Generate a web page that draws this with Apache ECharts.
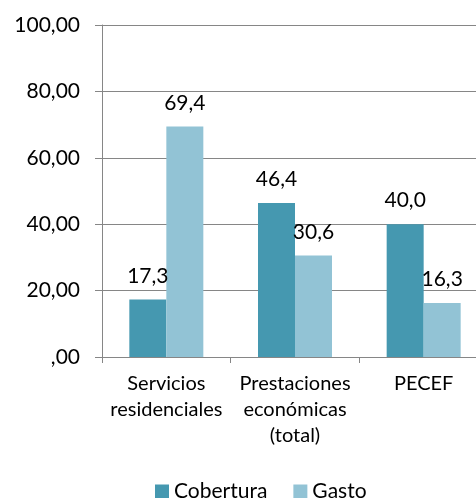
<!DOCTYPE html>
<html>
<head>
<meta charset="utf-8">
<script src="https://cdn.jsdelivr.net/npm/echarts@6/dist/echarts.min.js"></script>
<style>
  html, body { margin: 0; padding: 0; background: #fff; }
</style>
</head>
<body>
<div id="chart" style="width: 476px; height: 498px"></div>
<script>
// datos
var categorias = ["Servicios\nresidenciales", "Prestaciones\neconómicas\n(total)", "PECEF"];
var cobertura = [17.3, 46.4, 40.0];
var gasto = [69.4, 30.6, 16.3];

var chartDom = document.getElementById("chart");
var myChart = echarts.init(chartDom);
var option;

var fuente = "Lato";
var coma = function (v, d) {
  var s = Number(v).toFixed(d).replace(".", ",");
  return s.indexOf("0,") === 0 ? s.slice(1) : s;
};

option = {
  animation: false,
  textStyle: { fontFamily: fuente },
  legend: {
    top: 476,
    left: 150,
    itemWidth: 14,
    itemHeight: 14,
    itemGap: 26,
    icon: "rect",
    textStyle: { fontSize: 21, color: "#000", fontFamily: fuente },
    data: ["Cobertura", "Gasto"],
  },
  grid: {
    left: 102,
    width: 386,
    top: 25,
    bottom: 141,
    outerBoundsMode: "none",
  },
  xAxis: {
    type: "category",
    data: categorias,
    axisLine: { lineStyle: { color: "#868686" } },
    axisTick: { show: true, length: 6, lineStyle: { color: "#868686" } },
    axisLabel: {
      color: "#000",
      fontSize: 20,
      lineHeight: 26,
      margin: 14,
      interval: 0,
    },
  },
  yAxis: {
    type: "value",
    min: 0,
    max: 100,
    interval: 20,
    axisLine: { show: true, lineStyle: { color: "#868686" } },
    axisTick: { show: true, length: 7, lineStyle: { color: "#868686" } },
    splitLine: { lineStyle: { color: "#868686", width: 1 } },
    axisLabel: {
      color: "#000",
      fontSize: 21,
      margin: 22,
      formatter: function (v) { return coma(v, 2); },
    },
  },
  series: [
    {
      name: "Cobertura",
      type: "bar",
      data: cobertura,
      barWidth: 37,
      barGap: "0%",
      itemStyle: { color: "#4598b0" },
      label: {
        show: true,
        position: "top",
        distance: 13,
        color: "#000",
        fontSize: 21,
        formatter: function (p) { return coma(p.value, 1); },
      },
    },
    {
      name: "Gasto",
      type: "bar",
      data: gasto,
      barWidth: 37,
      itemStyle: { color: "#92c3d5" },
      label: {
        show: true,
        position: "top",
        distance: 13,
        color: "#000",
        fontSize: 21,
        formatter: function (p) { return coma(p.value, 1); },
      },
    },
  ],
};

option && myChart.setOption(option);
</script>
</body>
</html>
